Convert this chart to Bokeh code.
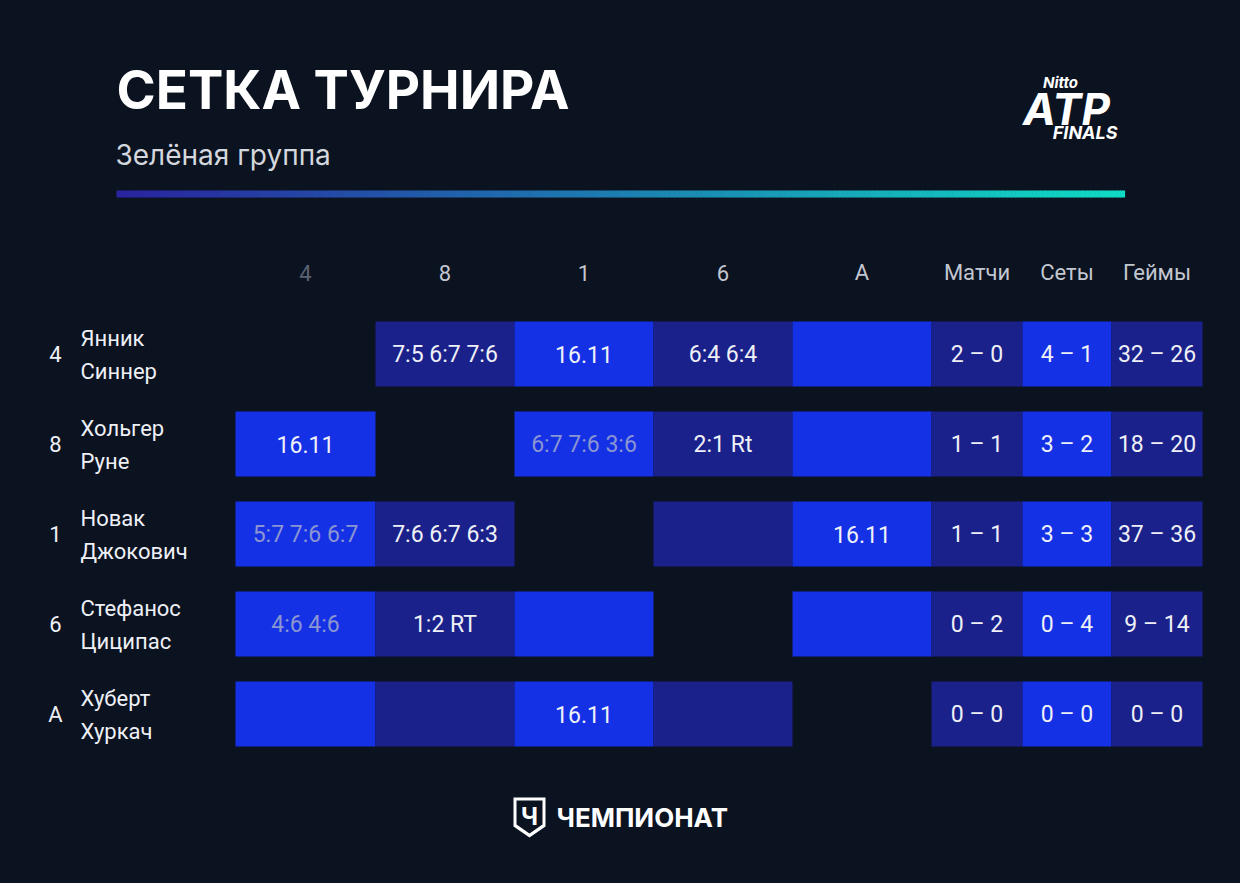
import numpy as np
from bokeh.plotting import figure
from bokeh.models import Range1d, GlobalInlineStyleSheet
from bokeh.core.properties import value
from bokeh.embed import file_html
from bokeh.resources import INLINE

# ---------------- data ----------------
title = "СЕТКА ТУРНИРА"
subtitle = "Зелёная группа"
seeds = ["4", "8", "1", "6", "A"]
first_names = ["Янник", "Хольгер", "Новак", "Стефанос", "Хуберт"]
last_names = ["Синнер", "Руне", "Джокович", "Циципас", "Хуркач"]
col_labels = ["4", "8", "1", "6", "A", "Матчи", "Сеты", "Геймы"]
results = [
    [None, "7:5 6:7 7:6", "16.11", "6:4 6:4", ""],
    ["16.11", None, "6:7 7:6 3:6", "2:1 Rt", ""],
    ["5:7 7:6 6:7", "7:6 6:7 6:3", None, "", "16.11"],
    ["4:6 4:6", "1:2 RT", "", None, ""],
    ["", "", "16.11", "", None],
]
lost_cells = [(1, 2), (2, 0), (3, 0)]
matches_won = [2, 1, 1, 0, 0]
matches_lost = [0, 1, 1, 2, 0]
sets_won = [4, 3, 3, 0, 0]
sets_lost = [1, 2, 3, 4, 0]
games_won = [32, 18, 37, 9, 0]
games_lost = [26, 20, 36, 14, 0]

# ---------------- style / layout ----------------
BG = "#0b1220"
BRIGHT = "#1531e6"
DARK = "#1a218b"
WHITE = "#eef0f6"
GREY_TXT = "#8a95d2"
HEAD = "#c3c7d0"
HEAD_DIM = "#5b6272"
FONT = value("Roboto")

col_edges = [235, 375, 514, 653, 792, 931, 1022, 1111, 1202]
row_top0, row_step, row_h = 321, 90, 65

W, H = 1224, 867
p = figure(width=W, height=H, x_range=Range1d(0, W), y_range=Range1d(H, 0),
           output_backend="svg", toolbar_location=None, min_border=0,
           background_fill_color=BG, border_fill_color=BG, outline_line_color=None)
p.axis.visible = False
p.grid.visible = False
p.stylesheets = [GlobalInlineStyleSheet(css="html,body{background:%s;}" % BG)]

# title
p.text(x=[116], y=[89], text=[title], text_font=value("Inter"), text_font_style="bold",
       text_font_size="53px", text_color="#ffffff", text_baseline="middle", text_align="left")
p.text(x=[115], y=[154], text=[subtitle], text_font=value("Inter"),
       text_font_size="28px", text_color="#d4d7de", text_baseline="middle", text_align="left")

# gradient line
n = 240
gx = np.linspace(116, 1124, n + 1)
c0 = np.array([42, 36, 160]); c1 = np.array([16, 220, 196])
cols = []
for i in range(n):
    t = i / (n - 1)
    c = (c0 * (1 - t) + c1 * t).astype(int)
    cols.append("#%02x%02x%02x" % tuple(c))
p.quad(left=gx[:-1], right=gx[1:] + 0.6, top=190, bottom=197, fill_color=cols, line_color=None)

# ATP logo (approximation)
p.text(x=[1060], y=[82], text=["Nitto"], text_font=value("Inter"), text_font_style="bold italic",
       text_font_size="15px", text_color="#ffffff", text_baseline="middle", text_align="center")
p.text(x=[1066], y=[108], text=["ATP"], text_font=value("Inter"), text_font_style="bold italic",
       text_font_size="44px", text_color="#ffffff", text_baseline="middle", text_align="center")
p.text(x=[1117], y=[132], text=["FINALS"], text_font=value("Inter"), text_font_style="bold italic",
       text_font_size="18px", text_color="#ffffff", text_baseline="middle", text_align="right")

# header
hx = [(col_edges[i] + col_edges[i + 1]) / 2 for i in range(len(col_labels))]
hcol = [HEAD_DIM] + [HEAD] * (len(col_labels) - 1)
p.text(x=hx, y=[272] * len(hx), text=col_labels, text_font=FONT, text_font_size="22px",
       text_color=hcol, text_baseline="middle", text_align="center")

# cells
L, R, T, B, F = [], [], [], [], []
tx, ty, tt, tc = [], [], [], []
for r in range(len(seeds)):
    top = row_top0 + r * row_step
    cy = top + row_h / 2
    stats = [f"{matches_won[r]} – {matches_lost[r]}",
             f"{sets_won[r]} – {sets_lost[r]}",
             f"{games_won[r]} – {games_lost[r]}"]
    row_vals = results[r] + stats
    for c, v in enumerate(row_vals):
        if v is None:
            continue
        L.append(col_edges[c]); R.append(col_edges[c + 1]); T.append(top); B.append(top + row_h)
        F.append(BRIGHT if c % 2 == 0 else DARK)
        if v:
            tx.append((col_edges[c] + col_edges[c + 1]) / 2); ty.append(cy); tt.append(v)
            tc.append(GREY_TXT if (r, c) in lost_cells else WHITE)

p.quad(left=L, right=R, top=T, bottom=B, fill_color=F, line_color=None)
p.text(x=tx, y=ty, text=tt, text_color=tc, text_font=FONT, text_font_size="23px",
       text_baseline="middle", text_align="center")

# row labels
rt = [row_top0 + r * row_step for r in range(len(seeds))]
p.text(x=[55] * len(seeds), y=[t + row_h / 2 for t in rt], text=seeds, text_font=FONT,
       text_font_size="22px", text_color=WHITE, text_baseline="middle", text_align="center")
p.text(x=[80] * len(seeds), y=[t + 17 for t in rt], text=first_names, text_font=FONT,
       text_font_size="22px", text_color=WHITE, text_baseline="middle", text_align="left")
p.text(x=[80] * len(seeds), y=[t + 50 for t in rt], text=last_names, text_font=FONT,
       text_font_size="22px", text_color=WHITE, text_baseline="middle", text_align="left")

# footer logo
sx = [513, 545, 545, 529, 513]
sy = [797, 797, 826, 837, 826]
p.patch(x=sx, y=sy, fill_color="#ffffff", line_color=None)
ix = [516, 542, 542, 529, 516]
iy = [800, 800, 824, 833, 824]
p.patch(x=ix, y=iy, fill_color=BG, line_color=None)
p.text(x=[529], y=[816], text=["Ч"], text_font=value("Inter"), text_font_style="bold",
       text_font_size="24px", text_color="#ffffff", text_baseline="middle", text_align="center")
p.text(x=[556], y=[817], text=["ЧЕМПИОНАТ"], text_font=value("Inter"), text_font_style="bold",
       text_font_size="26px", text_color="#ffffff", text_baseline="middle", text_align="left")

open("out.html", "w").write(file_html(p, INLINE))
